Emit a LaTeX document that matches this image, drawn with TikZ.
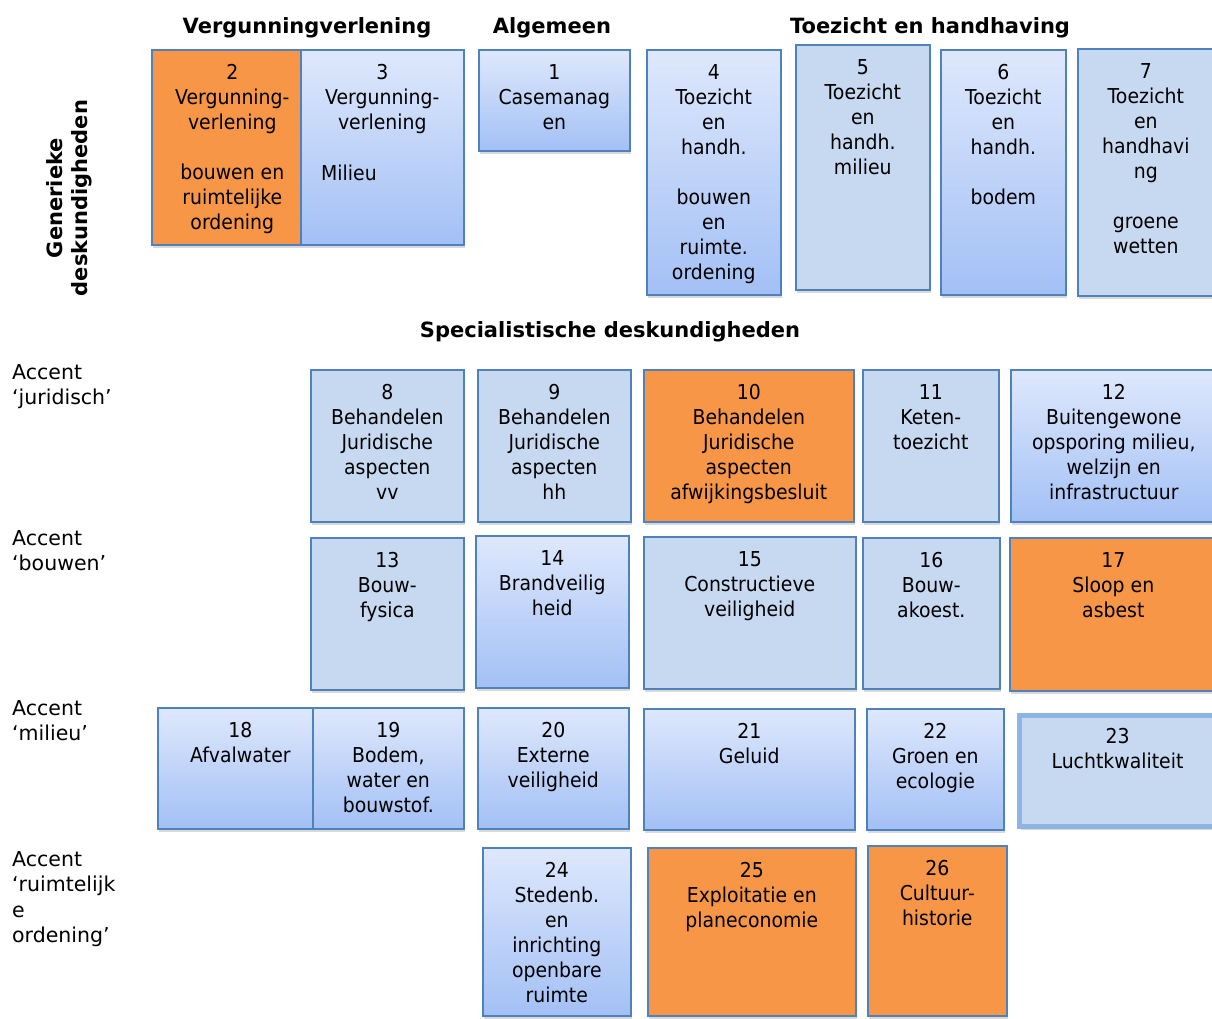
\documentclass[tikz,border=0pt]{standalone}
\usepackage{fontspec}
\setmainfont{DejaVu Sans}
\newfontfamily\boxfont[FakeStretch=0.92]{DejaVu Sans}
\usetikzlibrary{positioning,shadows}

\definecolor{cellorange}{HTML}{F79646}
\definecolor{cellflat}{HTML}{C6D9F1}
\definecolor{celltop}{HTML}{DEE8FC}
\definecolor{cellbot}{HTML}{A3C0F5}
\definecolor{cellline}{HTML}{4F81BD}
\definecolor{lightline}{HTML}{8DB4E2}

\begin{document}
\begin{tikzpicture}[x=1pt, y=-1pt,
        cell/.style={draw=cellline, line width=1.6pt, anchor=north west, inner sep=0pt,
            drop shadow={shadow xshift=1pt, shadow yshift=-3pt, opacity=0.3}},
        orangecell/.style={cell, fill=cellorange},
        flatcell/.style={cell, fill=cellflat},
        glasscell/.style={cell, top color=celltop, bottom color=cellbot},
        txt/.style={font=\boxfont\fontsize{20.5}{25}\selectfont, align=center, inner sep=0pt},
        head/.style={font=\bfseries\fontsize{21}{25}\selectfont, inner sep=0pt},
        accent/.style={font=\fontsize{20.5}{25.5}\selectfont, align=left, anchor=north west, inner sep=0pt}]
    \useasboundingbox (0,0) rectangle (1212,1018);

    % headings
    \node[head] (hvv) at (307,28) {Vergunningverlening};
    \node[head] (halg) at (552,28) {Algemeen};
    \node[head] (hth) at (930,28) {Toezicht en handhaving};
    \node[head] (hspec) at (610,332) {Specialistische deskundigheden};
    \node[head, rotate=90, align=center] (hgen) at (69,198) {Generieke\\deskundigheden};

    \node[accent] (ajur) at (12,364) {Accent\\`juridisch'};
    \node[accent] (abouw) at (12,530) {Accent\\`bouwen'};
    \node[accent] (amil) at (12,700) {Accent\\`milieu'};
    \node[accent] (aro) at (12,851) {Accent\\`ruimtelijk\\e\\ordening'};

    % generieke deskundigheden
    \node[orangecell, minimum width=149, minimum height=195] (b2) at (151,49) {};
    \node[txt, below=15pt of b2.north, xshift=6pt] (t2) {2\\Vergunning-\\verlening\\[25pt]bouwen en\\ruimtelijke\\ordening};
    \node[glasscell, minimum width=163, minimum height=195] (b3) at (300,49) {};
    \node[txt, below=15pt of b3.north] (t3) {3\\Vergunning-\\verlening};
    \node[txt, below right=116pt and 21pt of b3.north west] (t3b) {Milieu};
    \node[glasscell, minimum width=151, minimum height=101] (b1) at (478,49) {};
    \node[txt, below=15pt of b1.north] (t1) {1\\Casemanag\\en};
    \node[glasscell, minimum width=134, minimum height=245] (b4) at (646,49) {};
    \node[txt, below=15pt of b4.north] (t4) {4\\Toezicht\\en\\handh.\\[25pt]bouwen\\en\\ruimte.\\ordening};
    \node[flatcell, minimum width=134, minimum height=245] (b5) at (795,44) {};
    \node[txt, below=15pt of b5.north] (t5) {5\\Toezicht\\en\\handh.\\milieu};
    \node[glasscell, minimum width=125, minimum height=245] (b6) at (940,49) {};
    \node[txt, below=15pt of b6.north] (t6) {6\\Toezicht\\en\\handh.\\[25pt]bodem};
    \node[flatcell, minimum width=140, minimum height=247] (b7) at (1077,48) {};
    \node[txt, below=15pt of b7.north, xshift=-2pt] (t7) {7\\Toezicht\\en\\handhavi\\ng\\[25pt]groene\\wetten};

    % accent juridisch
    \node[flatcell, minimum width=153, minimum height=152] (b8) at (310,369) {};
    \node[txt, below=15pt of b8.north] (t8) {8\\Behandelen\\Juridische\\aspecten\\vv};
    \node[flatcell, minimum width=153, minimum height=152] (b9) at (477,369) {};
    \node[txt, below=15pt of b9.north] (t9) {9\\Behandelen\\Juridische\\aspecten\\hh};
    \node[orangecell, minimum width=210, minimum height=152] (b10) at (643,369) {};
    \node[txt, below=15pt of b10.north] (t10) {10\\Behandelen\\Juridische\\aspecten\\afwijkingsbesluit};
    \node[flatcell, minimum width=136, minimum height=152] (b11) at (862,369) {};
    \node[txt, below=15pt of b11.north] (t11) {11\\Keten-\\toezicht};
    \node[glasscell, minimum width=206, minimum height=152] (b12) at (1010,369) {};
    \node[txt, below=15pt of b12.north] (t12) {12\\Buitengewone\\opsporing milieu,\\welzijn en\\infrastructuur};

    % accent bouwen
    \node[flatcell, minimum width=153, minimum height=152] (b13) at (310,537) {};
    \node[txt, below=15pt of b13.north] (t13) {13\\Bouw-\\fysica};
    \node[glasscell, minimum width=153, minimum height=152] (b14) at (475,535) {};
    \node[txt, below=15pt of b14.north] (t14) {14\\Brandveilig\\heid};
    \node[flatcell, minimum width=212, minimum height=152] (b15) at (643,536) {};
    \node[txt, below=15pt of b15.north] (t15) {15\\Constructieve\\veiligheid};
    \node[flatcell, minimum width=137, minimum height=151] (b16) at (862,537) {};
    \node[txt, below=15pt of b16.north] (t16) {16\\Bouw-\\akoest.};
    \node[orangecell, minimum width=207, minimum height=153] (b17) at (1009,537) {};
    \node[txt, below=15pt of b17.north] (t17) {17\\Sloop en\\asbest};

    % accent milieu
    \node[glasscell, minimum width=155, minimum height=121] (b18) at (157,707) {};
    \node[txt, below=15pt of b18.north, xshift=5pt] (t18) {18\\Afvalwater};
    \node[glasscell, minimum width=151, minimum height=121] (b19) at (312,707) {};
    \node[txt, below=15pt of b19.north] (t19) {19\\Bodem,\\water en\\bouwstof.};
    \node[glasscell, minimum width=151, minimum height=121] (b20) at (477,707) {};
    \node[txt, below=15pt of b20.north] (t20) {20\\Externe\\veiligheid};
    \node[glasscell, minimum width=211, minimum height=121] (b21) at (643,708) {};
    \node[txt, below=15pt of b21.north] (t21) {21\\Geluid};
    \node[glasscell, minimum width=137, minimum height=121] (b22) at (866,708) {};
    \node[txt, below=15pt of b22.north] (t22) {22\\Groen en\\ecologie};
    \node[flatcell, draw=lightline, line width=5pt, minimum width=204, minimum height=111] (b23) at (1017,713) {};
    \node[txt, below=15pt of b23.north, xshift=-4pt] (t23) {23\\Luchtkwaliteit};

    % accent ruimtelijke ordening
    \node[glasscell, minimum width=148, minimum height=168] (b24) at (482,847) {};
    \node[txt, below=15pt of b24.north] (t24) {24\\Stedenb.\\en\\inrichting\\openbare\\ruimte};
    \node[orangecell, minimum width=208, minimum height=168] (b25) at (647,847) {};
    \node[txt, below=15pt of b25.north] (t25) {25\\Exploitatie en\\planeconomie};
    \node[orangecell, minimum width=139, minimum height=170] (b26) at (867,845) {};
    \node[txt, below=15pt of b26.north] (t26) {26\\Cultuur-\\historie};
\end{tikzpicture}
\end{document}
